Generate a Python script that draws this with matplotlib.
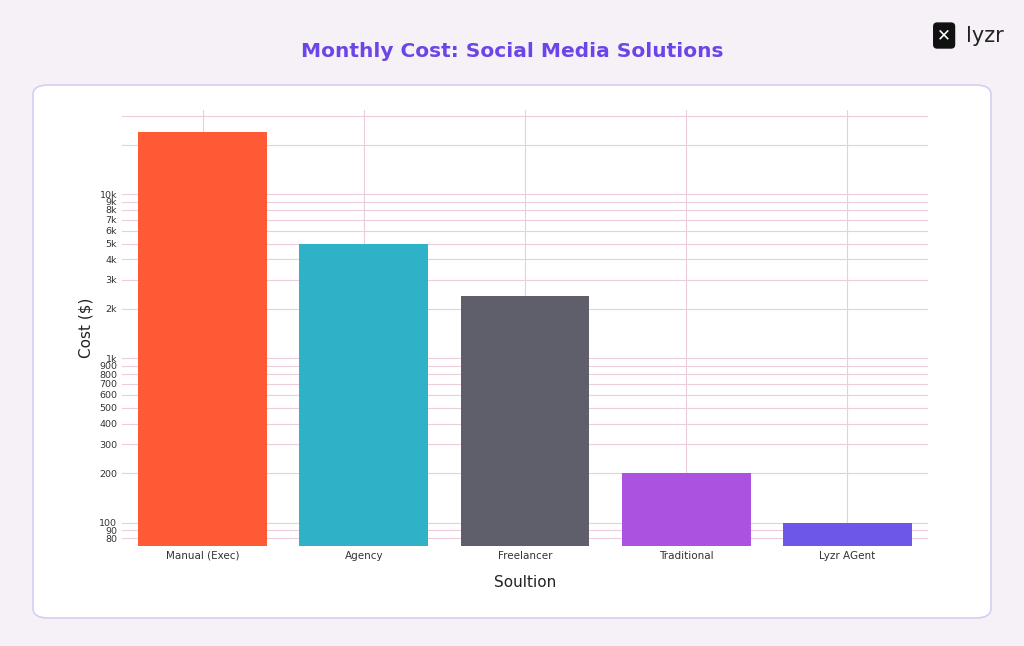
import numpy as np
import matplotlib.pyplot as plt
from matplotlib.patches import FancyBboxPatch
from matplotlib.ticker import FixedLocator, NullLocator

solutions = ["Manual (Exec)", "Agency", "Freelancer", "Traditional", "Lyzr AGent"]
costs = [24000, 5000, 2400, 200, 100]
colors = ["#FF5A36", "#2FB1C7", "#5E5F6B", "#AC52E0", "#6D57E8"]

tick_vals = [80, 90, 100, 200, 300, 400, 500, 600, 700, 800, 900,
             1000, 2000, 3000, 4000, 5000, 6000, 7000, 8000, 9000, 10000]
tick_labels = ["80", "90", "100", "200", "300", "400", "500", "600", "700", "800", "900",
               "1k", "2k", "3k", "4k", "5k", "6k", "7k", "8k", "9k", "10k"]
extra_grid = [20000, 30000]

fig = plt.figure(figsize=(10.24, 6.46), dpi=100)
fig.patch.set_facecolor("#F6F1F7")

panel = FancyBboxPatch((33 / 1024, 28 / 646), 958 / 1024, 533 / 646,
                       boxstyle="round,pad=0,rounding_size=0.015",
                       transform=fig.transFigure, facecolor="white",
                       edgecolor="#D9CCF0", linewidth=1.2, zorder=-10)
fig.patches.append(panel)

fig.text(0.5, 0.92, "Monthly Cost: Social Media Solutions", ha="center", va="center",
         fontsize=14.5, fontweight="bold", color="#6A45E8")
fig.text(0.943, 0.945, "lyzr", ha="left", va="center", fontsize=15, color="#222222")
fig.text(0.922, 0.945, "✕", ha="center", va="center", fontsize=12, color="white",
         bbox=dict(boxstyle="round,pad=0.25", facecolor="#111111", edgecolor="none"))

ax = fig.add_axes([122 / 1024, 100 / 646, 806 / 1024, 436 / 646])
ax.set_facecolor("none")
x = np.arange(len(solutions))
ax.bar(x, costs, width=0.8, color=colors, zorder=2)
ax.set_yscale("log")
ax.set_ylim(72, 32500)
ax.set_xlim(-0.5, len(solutions) - 0.5)

ax.yaxis.set_major_locator(FixedLocator(tick_vals))
ax.set_yticklabels(tick_labels)
ax.yaxis.set_minor_locator(NullLocator())
ax.set_xticks(x)
ax.set_xticklabels(solutions)
ax.tick_params(axis="y", length=0, labelsize=6.8, colors="#333333")
ax.tick_params(axis="x", length=0, labelsize=7.5, colors="#333333")

for v in tick_vals + extra_grid:
    ax.axhline(v, color="#EBCDDD", linewidth=0.8, zorder=0)
for xi in x:
    ax.axvline(xi, color="#EBCDDD", linewidth=0.8, zorder=0)

for s in ax.spines.values():
    s.set_visible(False)

ax.set_xlabel("Soultion", fontsize=11, color="#222222", labelpad=10)
ax.set_ylabel("Cost ($)", fontsize=11, color="#222222", labelpad=4)

plt.savefig("out.png", dpi=100, facecolor=fig.get_facecolor())
